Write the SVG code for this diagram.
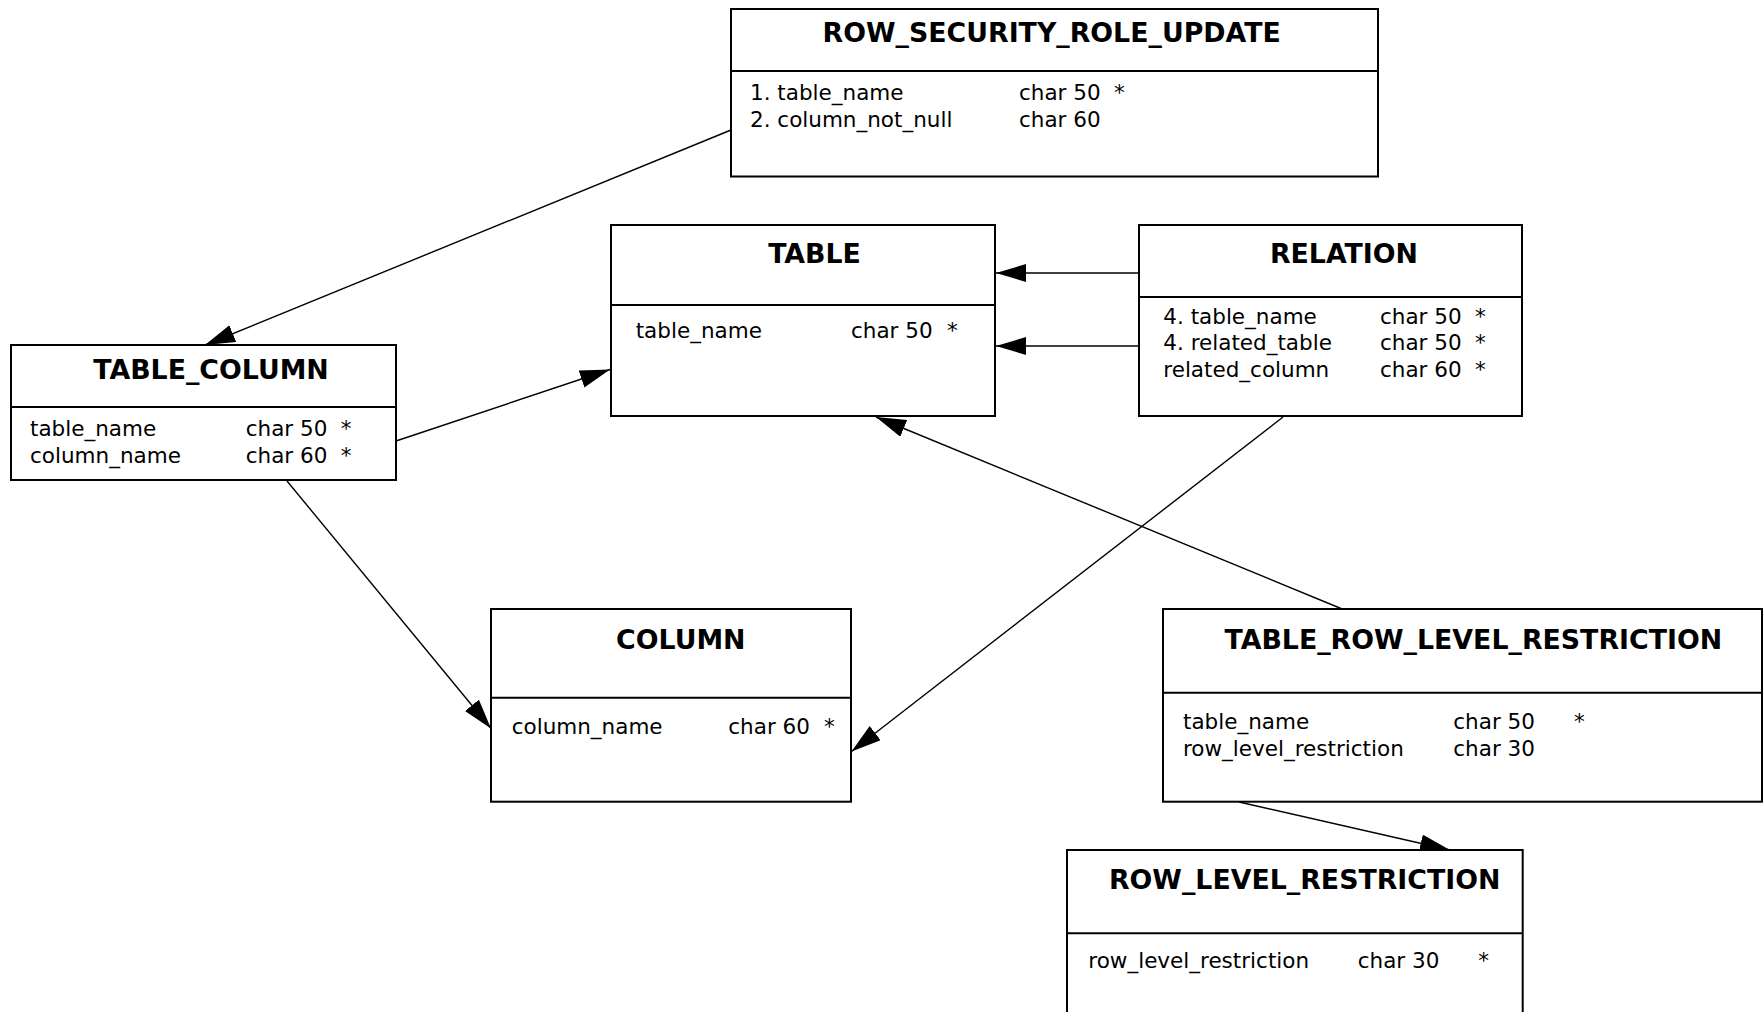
<svg xmlns="http://www.w3.org/2000/svg" width="1763" height="1012" viewBox="0 0 1763 1012">
<style>
.box{fill:#fff;stroke:#000;stroke-width:2}
.div{stroke:#000;stroke-width:2}
.title{font-family:"DejaVu Sans","Liberation Sans",sans-serif;font-weight:bold;font-size:26.8px;text-anchor:middle;fill:#000}
.f{font-family:"DejaVu Sans","Liberation Sans",sans-serif;font-size:21.5px;fill:#000}
.c{stroke:#000;stroke-width:1.4;fill:none;marker-end:url(#arr)}
</style>
<defs>
<marker id="arr" markerUnits="userSpaceOnUse" markerWidth="32" markerHeight="20" refX="30" refY="9" orient="auto">
<path d="M0,0 L30,9 L0,18 z" fill="#000"/>
</marker>
</defs>
<rect width="1763" height="1012" fill="#fff"/>
<g id="connectors">
<line class="c" x1="731" y1="130" x2="205" y2="345"/>
<line class="c" x1="396" y1="441" x2="610" y2="369.5"/>
<line class="c" x1="1139" y1="273" x2="996" y2="273"/>
<line class="c" x1="1139" y1="346" x2="996" y2="346"/>
<line class="c" x1="1283" y1="417" x2="851.5" y2="751.5"/>
<line class="c" x1="287" y1="481" x2="491" y2="728.5"/>
<line class="c" x1="1341" y1="608.5" x2="876" y2="417"/>
<line class="c" x1="1239" y1="802" x2="1450" y2="850"/>
</g>
<g id="ROW_SECURITY_ROLE_UPDATE">
<rect class="box" x="731" y="9" width="647" height="167.5"/>
<line class="div" x1="731" y1="71" x2="1378" y2="71"/>
<text class="title" x="1051.7" y="42.3">ROW_SECURITY_ROLE_UPDATE</text>
<text class="f" x="750" y="100">1. table_name</text><text class="f" x="1019" y="100">char 50</text><text class="f" x="1114" y="100">*</text>
<text class="f" x="750" y="127">2. column_not_null</text><text class="f" x="1019" y="127">char 60</text>
</g>
<g id="TABLE_COLUMN">
<rect class="box" x="11" y="345" width="385" height="135"/>
<line class="div" x1="11" y1="407" x2="396" y2="407"/>
<text class="title" x="211" y="379">TABLE_COLUMN</text>
<text class="f" x="30" y="436">table_name</text><text class="f" x="245.7" y="436">char 50</text><text class="f" x="340.7" y="436">*</text>
<text class="f" x="30" y="462.7">column_name</text><text class="f" x="245.7" y="462.7">char 60</text><text class="f" x="340.7" y="462.7">*</text>
</g>
<g id="TABLE">
<rect class="box" x="611" y="225" width="384" height="191"/>
<line class="div" x1="611" y1="305" x2="995" y2="305"/>
<text class="title" x="814.5" y="263.3">TABLE</text>
<text class="f" x="635.7" y="338.3">table_name</text><text class="f" x="851" y="338.3">char 50</text><text class="f" x="947" y="338.3">*</text>
</g>
<g id="RELATION">
<rect class="box" x="1139" y="225" width="383" height="191"/>
<line class="div" x1="1139" y1="297" x2="1522" y2="297"/>
<text class="title" x="1344" y="263">RELATION</text>
<text class="f" x="1163.3" y="324">4. table_name</text><text class="f" x="1380" y="324">char 50</text><text class="f" x="1475" y="324">*</text>
<text class="f" x="1163.3" y="350">4. related_table</text><text class="f" x="1380" y="350">char 50</text><text class="f" x="1475" y="350">*</text>
<text class="f" x="1163.3" y="376.7">related_column</text><text class="f" x="1380" y="376.7">char 60</text><text class="f" x="1475" y="376.7">*</text>
</g>
<g id="COLUMN">
<rect class="box" x="491" y="609" width="360" height="192.7"/>
<line class="div" x1="491" y1="697.7" x2="851" y2="697.7"/>
<text class="title" x="680.8" y="649">COLUMN</text>
<text class="f" x="511.7" y="734">column_name</text><text class="f" x="728.3" y="734">char 60</text><text class="f" x="824" y="734">*</text>
</g>
<g id="TABLE_ROW_LEVEL_RESTRICTION">
<rect class="box" x="1163" y="609" width="599" height="192.7"/>
<line class="div" x1="1163" y1="692.7" x2="1762" y2="692.7"/>
<text class="title" x="1473.3" y="649.3">TABLE_ROW_LEVEL_RESTRICTION</text>
<text class="f" x="1183" y="729">table_name</text><text class="f" x="1453.3" y="729">char 50</text><text class="f" x="1574" y="729">*</text>
<text class="f" x="1183" y="755.7">row_level_restriction</text><text class="f" x="1453.3" y="755.7">char 30</text>
</g>
<g id="ROW_LEVEL_RESTRICTION">
<rect class="box" x="1067" y="850" width="455.7" height="190"/>
<line class="div" x1="1067" y1="933.3" x2="1522.7" y2="933.3"/>
<text class="title" x="1304.7" y="889">ROW_LEVEL_RESTRICTION</text>
<text class="f" x="1088.3" y="967.7">row_level_restriction</text><text class="f" x="1357.7" y="967.7">char 30</text><text class="f" x="1478.3" y="967.7">*</text>
</g>
</svg>
